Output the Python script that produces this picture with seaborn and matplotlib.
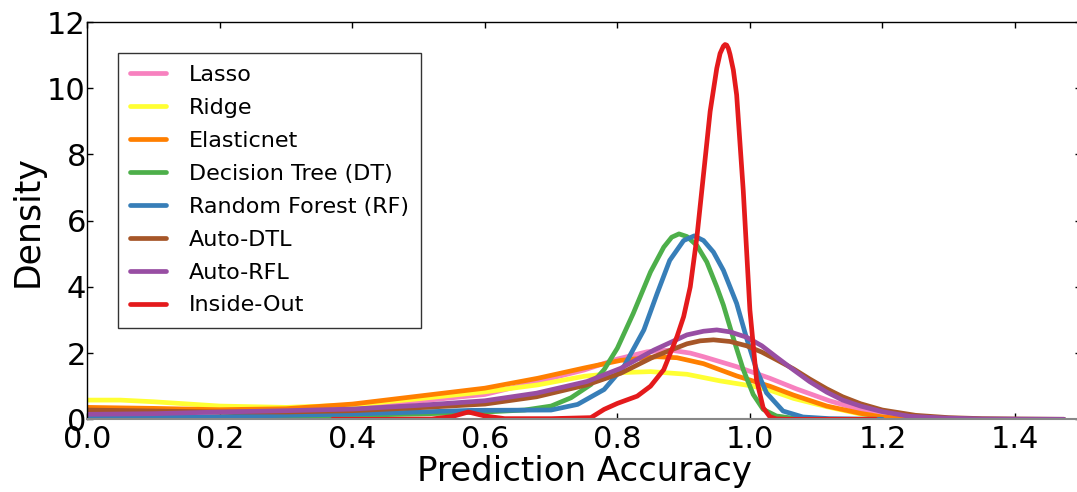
import matplotlib
matplotlib.use("Agg")
import matplotlib.pyplot as plt
import seaborn as sns
import pandas as pd

methods = ["Lasso", "Ridge", "Elasticnet", "Decision Tree (DT)",
           "Random Forest (RF)", "Auto-DTL", "Auto-RFL", "Inside-Out"]
colors = ["#f781bf", "#ffff33", "#ff7f00", "#4daf4a",
          "#377eb8", "#a65628", "#984ea3", "#e41a1c"]

lasso_x = [0, 0.1, 0.2, 0.3, 0.4, 0.5, 0.6, 0.68, 0.75, 0.8, 0.845, 0.88, 0.91, 0.93, 0.98, 1.03, 1.07, 1.12, 1.17, 1.2, 1.25, 1.3, 1.35]
lasso_y = [0.22, 0.22, 0.22, 0.26, 0.37, 0.55, 0.75, 1.14, 1.49, 1.82, 2.04, 2.09, 2.0, 1.89, 1.59, 1.24, 0.92, 0.56, 0.27, 0.15, 0.06, 0.02, 0.0]

ridge_x = [0, 0.05, 0.1, 0.2, 0.3, 0.4, 0.5, 0.6, 0.68, 0.75, 0.805, 0.85, 0.905, 0.955, 1.005, 1.03, 1.066, 1.116, 1.167, 1.2, 1.25, 1.3]
ridge_y = [0.58, 0.58, 0.53, 0.4, 0.36, 0.43, 0.62, 0.83, 1.04, 1.3, 1.41, 1.44, 1.36, 1.16, 1.0, 0.88, 0.63, 0.38, 0.16, 0.07, 0.02, 0.0]

enet_x = [0, 0.1, 0.2, 0.3, 0.4, 0.5, 0.6, 0.68, 0.75, 0.805, 0.86, 0.89, 0.93, 0.98, 1.03, 1.066, 1.116, 1.167, 1.2, 1.25]
enet_y = [0.36, 0.33, 0.29, 0.32, 0.46, 0.7, 0.94, 1.24, 1.55, 1.78, 1.89, 1.86, 1.68, 1.31, 1.0, 0.73, 0.40, 0.18, 0.07, 0.0]

dt_x = [0, 0.2, 0.4, 0.5, 0.6, 0.66, 0.7, 0.73, 0.76, 0.78, 0.8, 0.824, 0.85, 0.87, 0.882, 0.893, 0.905, 0.92, 0.935, 0.95, 0.96, 0.975, 0.99, 1.005, 1.02, 1.04, 1.07, 1.1]
dt_y = [0.02, 0.06, 0.12, 0.16, 0.22, 0.28, 0.4, 0.65, 1.05, 1.5, 2.15, 3.2, 4.45, 5.2, 5.5, 5.6, 5.52, 5.25, 4.75, 4.0, 3.45, 2.45, 1.5, 0.75, 0.3, 0.1, 0.02, 0.0]

rf_x = [0, 0.2, 0.4, 0.5, 0.58, 0.7, 0.74, 0.78, 0.81, 0.84, 0.86, 0.879, 0.9, 0.916, 0.93, 0.945, 0.96, 0.98, 0.995, 1.01, 1.025, 1.05, 1.08, 1.12, 1.2]
rf_y = [0.04, 0.08, 0.16, 0.22, 0.27, 0.28, 0.45, 0.9, 1.6, 2.7, 3.8, 4.8, 5.4, 5.54, 5.4, 5.05, 4.5, 3.5, 2.45, 1.5, 0.8, 0.25, 0.07, 0.02, 0.0]

adtl_x = [0, 0.1, 0.2, 0.3, 0.4, 0.5, 0.6, 0.678, 0.754, 0.805, 0.855, 0.905, 0.925, 0.945, 0.97, 0.995, 1.018, 1.04, 1.066, 1.09, 1.116, 1.14, 1.167, 1.2, 1.25, 1.3, 1.35, 1.4, 1.474]
adtl_y = [0.28, 0.25, 0.22, 0.22, 0.26, 0.35, 0.46, 0.68, 1.04, 1.39, 1.89, 2.28, 2.37, 2.40, 2.35, 2.22, 2.03, 1.8, 1.52, 1.22, 0.92, 0.68, 0.47, 0.28, 0.12, 0.05, 0.02, 0.01, 0.0]

arfl_x = [0, 0.1, 0.2, 0.3, 0.4, 0.5, 0.6, 0.678, 0.754, 0.805, 0.855, 0.905, 0.93, 0.95, 0.97, 0.995, 1.018, 1.04, 1.066, 1.09, 1.116, 1.14, 1.167, 1.2, 1.241, 1.291, 1.35, 1.4, 1.474]
arfl_y = [0.15, 0.17, 0.22, 0.26, 0.31, 0.42, 0.56, 0.79, 1.14, 1.54, 2.09, 2.55, 2.66, 2.70, 2.64, 2.48, 2.22, 1.88, 1.49, 1.14, 0.82, 0.58, 0.40, 0.23, 0.09, 0.04, 0.01, 0.005, 0.0]

io_x = [0.37, 0.45, 0.52, 0.55, 0.575, 0.6, 0.63, 0.7, 0.76, 0.78, 0.8, 0.83, 0.85, 0.87, 0.88, 0.89, 0.9, 0.91, 0.92, 0.93, 0.94, 0.95, 0.955, 0.96, 0.9625, 0.965, 0.9675, 0.97, 0.975, 0.98, 0.99, 1.0, 1.01, 1.02, 1.03, 1.04, 1.06, 1.19]
io_y = [0.0, 0.0, 0.01, 0.08, 0.22, 0.1, 0.02, 0.02, 0.05, 0.3, 0.48, 0.7, 1.0, 1.5, 2.0, 2.5, 3.1, 4.0, 5.5, 7.4, 9.3, 10.6, 11.05, 11.27, 11.32, 11.3, 11.2, 11.02, 10.55, 9.8, 6.9, 3.3, 1.2, 0.35, 0.08, 0.01, 0.0, 0.0]

xs = [lasso_x, ridge_x, enet_x, dt_x, rf_x, adtl_x, arfl_x, io_x]
ys = [lasso_y, ridge_y, enet_y, dt_y, rf_y, adtl_y, arfl_y, io_y]

frames = []
for name, x, y in zip(methods, xs, ys):
    frames.append(pd.DataFrame({"Prediction Accuracy": x, "Density": y, "Method": name}))
df = pd.concat(frames, ignore_index=True)

plt.rcParams["font.family"] = ["DejaVu Sans"]

fig = plt.figure(figsize=(10.77, 4.92), dpi=100)
ax = fig.add_axes([87.3 / 1077, 1 - 419.3 / 492, 993.9 / 1077, 397.3 / 492])

sns.lineplot(data=df, x="Prediction Accuracy", y="Density", hue="Method",
             hue_order=methods, palette=colors, linewidth=3.4, sort=False,
             estimator=None, ax=ax)
for ln in ax.get_lines():
    ln.set_solid_joinstyle("round")
    ln.set_solid_capstyle("round")

ax.set_xlim(0, 1.5)
ax.set_ylim(0, 12)
ax.set_xticks([0.0, 0.2, 0.4, 0.6, 0.8, 1.0, 1.2, 1.4])
ax.set_xticklabels(["0.0", "0.2", "0.4", "0.6", "0.8", "1.0", "1.2", "1.4"])
ax.set_yticks([0, 2, 4, 6, 8, 10, 12])
ax.tick_params(direction="in", top=True, right=True, length=4, width=1,
               labelsize=22, pad=4)
ax.tick_params(axis="y", pad=1)
ax.set_xlabel("Prediction Accuracy", fontsize=24.5, labelpad=1)
ax.set_ylabel("Density", fontsize=25, labelpad=2)
for s in ["left", "top", "right"]:
    ax.spines[s].set_color("black")
    ax.spines[s].set_linewidth(1)
ax.spines["bottom"].set_color("#888888")
ax.spines["bottom"].set_linewidth(1.5)

handles, labels = ax.get_legend_handles_labels()
for h in handles:
    h.set_linewidth(3.4)
leg = ax.legend(handles, labels, loc="upper left", bbox_to_anchor=(0.031, 0.922),
                borderaxespad=0, fontsize=16, handlelength=1.6, handletextpad=1.05,
                labelspacing=0.58, frameon=True, fancybox=False, framealpha=1,
                borderpad=0.55)
leg.get_frame().set_edgecolor("#333333")
leg.get_frame().set_linewidth(1)

fig.savefig("out.png", dpi=100)
